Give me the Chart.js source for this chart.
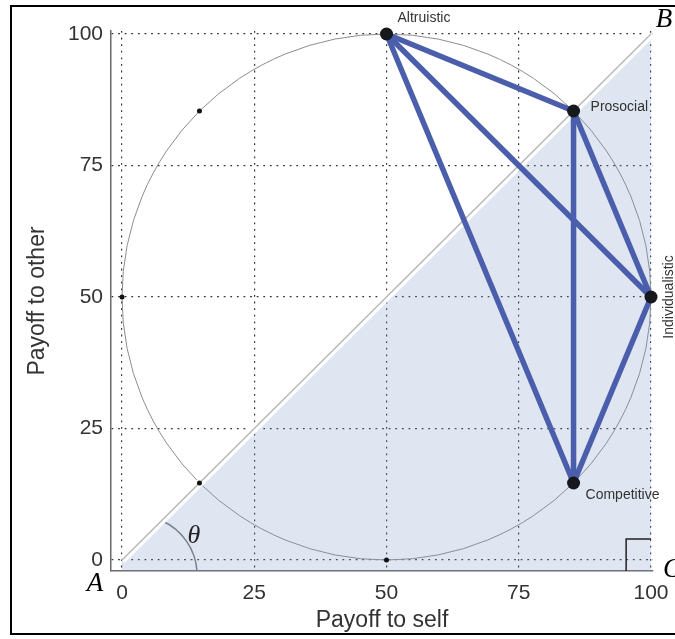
<!DOCTYPE html>
<html>
<head>
<meta charset="utf-8">
<script src="https://cdn.jsdelivr.net/npm/chart.js@4"></script>
<style>
html, body { margin: 0; padding: 0; background: #fff; overflow: hidden; }
#wrap { position: absolute; left: 0; top: 0; width: 675px; height: 639px; }
</style>
</head>
<body>
<div id="wrap"><canvas id="chart" width="675" height="639"></canvas></div>
<script>
// strategies on the ring
const strategyNames = ['Altruistic', 'Prosocial', 'Individualistic', 'Competitive'];
const strategySelf = [50, 85.36, 100, 85.36];
const strategyOther = [100, 85.36, 50, 14.64];
// small marks on the ring
const ringSelf = [14.64, 0, 14.64, 50];
const ringOther = [85.36, 50, 14.64, 0];
// which strategies are joined by a line
const edgePairs = [[0, 1], [0, 2], [0, 3], [1, 2], [1, 3], [2, 3]];
// corners A, B, C and the diagonal
const cornerNames = ['A', 'B', 'C'];
const cornerSelf = [0, 100, 100];
const cornerOther = [0, 100, 0];
const tickValues = [0, 25, 50, 75, 100];
const ringCenter = [50, 50];
const ringRadius = 50;
// theta arc, as seen in the picture
const thetaCenter = [3.0, -2.85];
const thetaRadius = 11.2;
const thetaFrom = -66.8, thetaTo = -3;

const blue = '#4a5eab';
const pt = (i) => ({x: strategySelf[i], y: strategyOther[i]});
const diagonal = [{x: cornerSelf[0], y: cornerOther[0]}, {x: cornerSelf[1], y: cornerOther[1]}];

const edgeSets = edgePairs.map(([a, b]) => ({
    type: 'line',
    data: [pt(a), pt(b)],
    borderColor: blue,
    borderWidth: 5.5,
    pointRadius: 0,
    fill: false,
    clip: false,
    order: 3
}));

const decor = {
    id: 'decor',
    beforeDraw(chart) {
        const {ctx} = chart;
        ctx.save();
        ctx.strokeStyle = '#000';
        ctx.lineWidth = 2;
        ctx.beginPath();
        ctx.moveTo(680, 6);
        ctx.lineTo(11, 6);
        ctx.lineTo(11, 634);
        ctx.lineTo(680, 634);
        ctx.stroke();
        ctx.restore();
    },
    beforeDatasetsDraw(chart) {
        const {ctx, scales: {x, y}, chartArea} = chart;
        const cx = x.getPixelForValue(ringCenter[0]);
        const cy = y.getPixelForValue(ringCenter[1]);
        const rx = x.getPixelForValue(ringCenter[0] + ringRadius) - cx;
        const ry = cy - y.getPixelForValue(ringCenter[1] + ringRadius);
        ctx.save();
        ctx.strokeStyle = '#8c8c8c';
        ctx.lineWidth = 1;
        ctx.beginPath();
        ctx.ellipse(cx, cy, rx, ry, 0, 0, Math.PI * 2);
        ctx.stroke();
        // theta arc
        ctx.beginPath();
        ctx.rect(chartArea.left, chartArea.top, chartArea.width, chartArea.height);
        ctx.clip();
        const ax = x.getPixelForValue(thetaCenter[0]), ay = y.getPixelForValue(thetaCenter[1]);
        const r = x.getPixelForValue(thetaRadius) - x.getPixelForValue(0);
        ctx.strokeStyle = '#7a7a7a';
        ctx.lineWidth = 1.5;
        ctx.beginPath();
        ctx.arc(ax, ay, r, thetaFrom * Math.PI / 180, thetaTo * Math.PI / 180);
        ctx.stroke();
        ctx.restore();
    },
    afterDatasetsDraw(chart) {
        const {ctx, scales: {x, y}, chartArea} = chart;
        const meta = chart.getDatasetMeta(chart.data.datasets.length - 1);
        ctx.save();
        // right angle marker at C
        const mx1 = x.getPixelForValue(95.3), mx2 = x.getPixelForValue(100);
        const my = y.getPixelForValue(4);
        ctx.strokeStyle = '#222';
        ctx.lineWidth = 1.5;
        ctx.beginPath();
        ctx.moveTo(mx1, chartArea.bottom);
        ctx.lineTo(mx1, my);
        ctx.lineTo(mx2, my);
        ctx.stroke();

        ctx.fillStyle = '#333';
        ctx.font = '14px "Liberation Sans", Arial, sans-serif';
        ctx.textBaseline = 'middle';
        ctx.textAlign = 'left';
        const offs = [[11, -16], [17, -4], [null, null], [12, 12]];
        strategyNames.forEach((name, i) => {
            const p = meta.data[i];
            if (i === 2) {
                ctx.save();
                ctx.translate(p.x + 18, p.y);
                ctx.rotate(-Math.PI / 2);
                ctx.textAlign = 'center';
                ctx.fillText(name, 0, 0);
                ctx.restore();
            } else {
                ctx.fillText(name, p.x + offs[i][0], p.y + offs[i][1]);
            }
        });

        ctx.fillStyle = '#000';
        ctx.font = 'italic 27px "Liberation Serif", "DejaVu Serif", serif';
        const cOffs = [[-27, 24, 'center'], [13, -14, 'center'], [12, 10, 'left']];
        cornerNames.forEach((name, i) => {
            const px = x.getPixelForValue(cornerSelf[i]);
            const py = y.getPixelForValue(cornerOther[i]);
            ctx.textAlign = cOffs[i][2];
            ctx.fillText(name, px + cOffs[i][0], py + cOffs[i][1]);
        });
        ctx.fillStyle = '#222';
        ctx.textAlign = 'center';
        ctx.font = 'italic 26px "Liberation Serif", "DejaVu Serif", serif';
        ctx.fillText('θ', x.getPixelForValue(0) + 72, y.getPixelForValue(0) - 24);
        ctx.restore();
    }
};

const axisCommon = {
    type: 'linear',
    afterBuildTicks: (s) => { s.ticks = tickValues.map(v => ({value: v})); },
    grid: {color: '#333', lineWidth: 1.2, drawTicks: false},
    border: {display: true, color: '#6a6a6a', width: 1.5, dash: [1.8, 4.8]},
    ticks: {color: '#333', font: {family: '"Liberation Sans", Arial, sans-serif', size: 21}}
};

new Chart(document.getElementById('chart'), {
    type: 'scatter',
    data: {
        datasets: [
            {
                type: 'line',
                data: diagonal,
                borderWidth: 0,
                backgroundColor: 'rgba(120, 150, 195, 0.24)',
                fill: 'start',
                pointRadius: 0,
                order: 10
            },
            {
                type: 'line',
                data: diagonal,
                borderColor: '#ffffff',
                borderWidth: 8,
                pointRadius: 0,
                fill: false,
                order: 9
            },
            {
                type: 'line',
                data: diagonal,
                borderColor: '#b4b4b4',
                borderWidth: 1.3,
                pointRadius: 0,
                fill: false,
                order: 8
            },
            ...edgeSets,
            {
                data: ringSelf.map((v, i) => ({x: v, y: ringOther[i]})),
                pointRadius: 2.5,
                pointBackgroundColor: '#111',
                pointBorderWidth: 0,
                clip: false,
                order: 2
            },
            {
                data: strategySelf.map((v, i) => pt(i)),
                pointRadius: 6.5,
                pointBackgroundColor: '#17171e',
                pointBorderWidth: 0,
                clip: false,
                order: 1
            }
        ]
    },
    options: {
        responsive: false,
        animation: false,
        layout: {padding: {top: 31, right: 22, left: 0, bottom: 0}},
        plugins: {legend: {display: false}, tooltip: {enabled: false}},
        scales: {
            x: {
                ...axisCommon,
                min: -2.08,
                max: 100.38,
                afterFit: (s) => { s.height = 68; s.paddingLeft = 0; s.paddingRight = 0; },
                ticks: {...axisCommon.ticks, padding: 10},
                title: {display: true, text: 'Payoff to self', color: '#333',
                    font: {family: '"Liberation Sans", Arial, sans-serif', size: 23},
                    padding: {top: 0, bottom: 5}}
            },
            y: {
                ...axisCommon,
                min: -2.09,
                max: 100.57,
                afterFit: (s) => { s.width = 111; s.paddingTop = 0; s.paddingBottom = 0; },
                ticks: {...axisCommon.ticks, padding: 8},
                title: {display: true, text: 'Payoff to other', color: '#333',
                    font: {family: '"Liberation Sans", Arial, sans-serif', size: 23},
                    padding: {top: 24, bottom: 0}}
            }
        }
    },
    plugins: [decor]
});
</script>
</body>
</html>
